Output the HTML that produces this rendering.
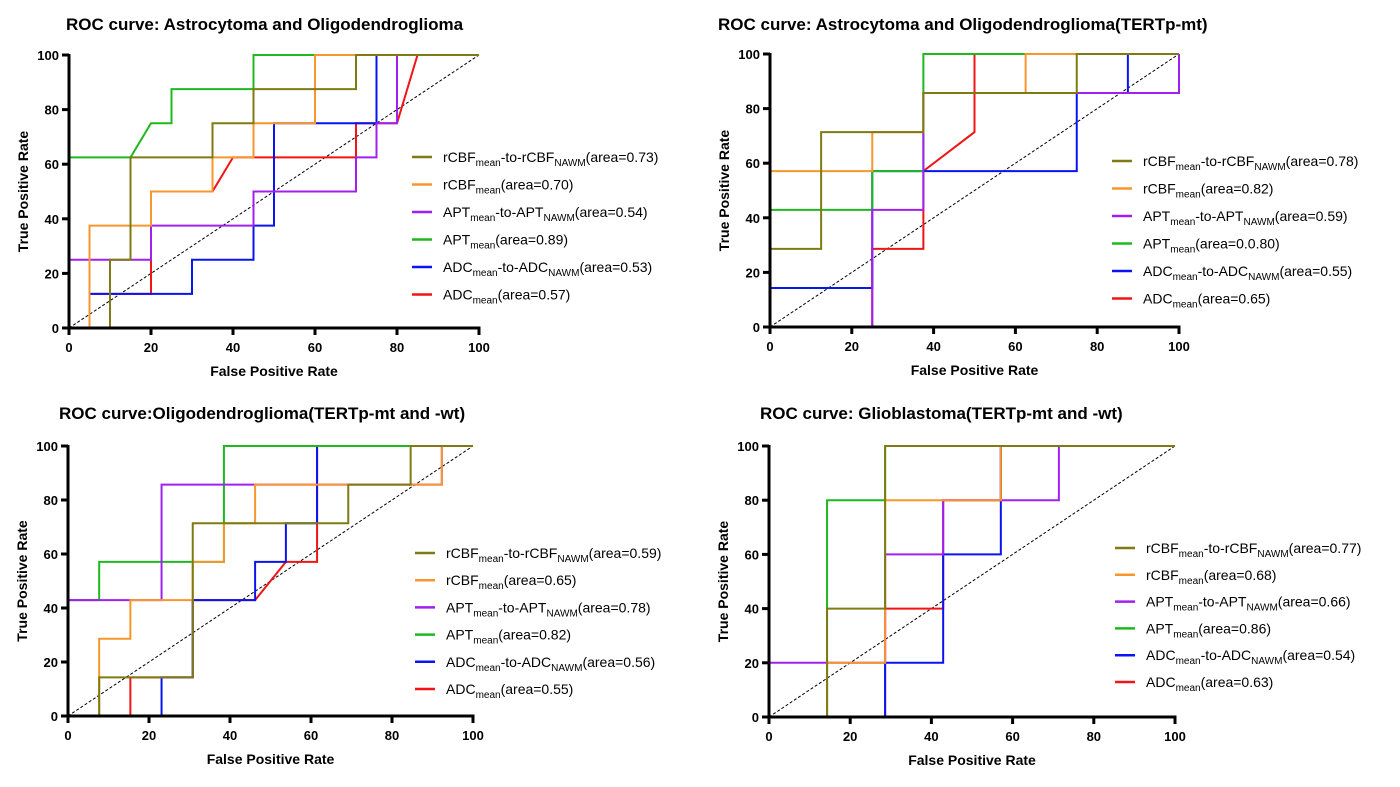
<!DOCTYPE html>
<html><head><meta charset="utf-8"><style>
body{margin:0;background:#fff;}
svg text{font-family:"Liberation Sans",Arial,sans-serif;}
</style></head><body>
<svg id="chart" width="1400" height="782" viewBox="0 0 1400 782"></svg>
<script>
const seriesNames = ["rCBFmean-to-rCBFNAWM","rCBFmean","APTmean-to-APTNAWM","APTmean","ADCmean-to-ADCNAWM","ADCmean"];
const seriesColors = ["#7f7a12","#f7962d","#a020f0","#1fb81f","#0a14f0","#f01414"];
const xTicks = [0,20,40,60,80,100];
const yTicks = [0,20,40,60,80,100];
const titles = ["ROC curve: Astrocytoma and Oligodendroglioma","ROC curve: Astrocytoma and Oligodendroglioma(TERTp-mt)","ROC curve:Oligodendroglioma(TERTp-mt and -wt)","ROC curve: Glioblastoma(TERTp-mt and -wt)"];
const areas1 = ["0.73","0.70","0.54","0.89","0.53","0.57"];
const areas2 = ["0.78","0.82","0.59","0.0.80","0.55","0.65"];
const areas3 = ["0.59","0.65","0.78","0.82","0.56","0.55"];
const areas4 = ["0.77","0.68","0.66","0.86","0.54","0.63"];
// panel 1
const p1fpr = [[0,10,10,15,15,35,35,45,45,70,70,100],[0,5,5,20,20,35,35,45,45,60,60,100],[0,0,20,20,45,45,70,70,75,75,80,80,100],[0,0,15,20,25,25,45,45,100],[0,5,5,30,30,45,45,50,50,75,75,100],[0,5,5,20,20,35,40,70,70,80,85,100]];
const p1tpr = [[0,0,25,25,62.5,62.5,75,75,87.5,87.5,100,100],[0,0,37.5,37.5,50,50,62.5,62.5,75,75,100,100],[0,25,25,37.5,37.5,50,50,62.5,62.5,75,75,100,100],[0,62.5,62.5,75,75,87.5,87.5,100,100],[0,0,12.5,12.5,25,25,37.5,37.5,75,75,100,100],[0,0,12.5,12.5,50,50,62.5,62.5,75,75,100,100]];
// panel 2
const p2fpr = [[0,0,12.5,12.5,37.5,37.5,75,75,100],[0,0,25,25,37.5,37.5,62.5,62.5,100],[0,25,25,37.5,37.5,100,100],[0,0,25,25,37.5,37.5,100],[0,0,25,25,37.5,75,75,87.5,87.5,100],[0,25,25,37.5,37.5,50,50,100]];
const p2tpr = [[0,28.6,28.6,71.4,71.4,85.7,85.7,100,100],[0,57.1,57.1,71.4,71.4,85.7,85.7,100,100],[0,0,42.9,42.9,85.7,85.7,100],[0,42.9,42.9,57.1,57.1,100,100],[0,14.3,14.3,57.1,57.1,57.1,85.7,85.7,100,100],[0,0,28.6,28.6,57.1,71.4,100,100]];
// panel 3
const p3fpr = [[0,7.7,7.7,30.8,30.8,69.2,69.2,84.6,84.6,100],[0,7.7,7.7,15.4,15.4,30.8,30.8,38.5,38.5,46.2,46.2,92.3,92.3,100],[0,0,23.1,23.1,92.3,92.3,100],[0,0,7.7,7.7,38.5,38.5,100],[0,23.1,23.1,30.8,30.8,46.2,46.2,53.8,53.8,61.5,61.5,100],[0,15.4,15.4,30.8,30.8,46.2,53.8,61.5,61.5,61.5,100]];
const p3tpr = [[0,0,14.3,14.3,71.4,71.4,85.7,85.7,100,100],[0,0,28.6,28.6,42.9,42.9,57.1,57.1,71.4,71.4,85.7,85.7,100,100],[0,42.9,42.9,85.7,85.7,100,100],[0,42.9,42.9,57.1,57.1,100,100],[0,0,14.3,14.3,42.9,42.9,57.1,57.1,71.4,71.4,100,100],[0,0,14.3,14.3,42.9,42.9,57.1,57.1,71.4,100,100]];
// panel 4
const p4fpr = [[0,14.3,14.3,28.6,28.6,100],[0,14.3,14.3,28.6,28.6,57.1,57.1,100],[0,0,28.6,28.6,42.9,42.9,71.4,71.4,100],[0,14.3,14.3,28.6,28.6,100],[0,28.6,28.6,42.9,42.9,57.1,57.1,100],[0,28.6,28.6,42.9,42.9,57.1,57.1,100]];
const p4tpr = [[0,0,40,40,100,100],[0,0,20,20,80,80,100,100],[0,20,20,60,60,80,80,100,100],[0,0,80,80,100,100],[0,0,20,20,60,60,100,100],[0,0,40,40,80,80,100,100]];

const NS="http://www.w3.org/2000/svg";
const svg=document.getElementById('chart');
function mk(tag,attrs,parent){const e=document.createElementNS(NS,tag);for(const k in attrs)e.setAttribute(k,attrs[k]);(parent||svg).appendChild(e);return e;}
const panels=[
 {x0:69,x1:479,y0:328,y1:55,tx:66,ty:30,lx:412,ly:157,ld:27.5,fpr:p1fpr,tpr:p1tpr,areas:areas1},
 {x0:770,x1:1179,y0:327,y1:54,tx:718,ty:30,lx:1112,ly:161,ld:27.5,fpr:p2fpr,tpr:p2tpr,areas:areas2},
 {x0:68,x1:473,y0:716,y1:446,tx:59,ty:419,lx:415,ly:553,ld:27.2,fpr:p3fpr,tpr:p3tpr,areas:areas3},
 {x0:769,x1:1175,y0:717,y1:446,tx:760,ty:419,lx:1115,ly:548,ld:26.8,fpr:p4fpr,tpr:p4tpr,areas:areas4}
];
const subs=[["rCBF","mean","-to-rCBF","NAWM"],["rCBF","mean"],["APT","mean","-to-APT","NAWM"],["APT","mean"],["ADC","mean","-to-ADC","NAWM"],["ADC","mean"]];
panels.forEach((p,pi)=>{
 const g=mk('g',{});
 
 
 const sx=v=>p.x0+(p.x1-p.x0)*v/100, sy=v=>p.y0+(p.y1-p.y0)*v/100;
 const t=mk('text',{x:p.tx,y:p.ty,'font-size':17,'font-weight':'bold'},g);t.textContent=titles[pi];
 
 
 const d=mk('line',{x1:sx(0),y1:sy(0),x2:sx(100),y2:sy(100),stroke:'#000','stroke-width':1,'stroke-dasharray':'3,2'},g);
 
 
 for(let i=5;i>=0;i--){
  const pts=p.fpr[i].map((f,j)=>sx(f)+','+sy(p.tpr[i][j])).join(' ');
  const l=mk('polyline',{points:pts,fill:'none',stroke:seriesColors[i],'stroke-width':2},g);
  
  
 }
 mk('line',{x1:p.x0,y1:p.y0+1.5,x2:p.x0,y2:p.y1-1,stroke:'#000','stroke-width':3},g);
 mk('line',{x1:p.x0-1.5,y1:p.y0,x2:p.x1+1.5,y2:p.y0,stroke:'#000','stroke-width':3},g);
 xTicks.forEach(v=>{
  mk('line',{x1:sx(v),y1:p.y0,x2:sx(v),y2:p.y0+7,stroke:'#000','stroke-width':3},g);
  const tt=mk('text',{x:sx(v),y:p.y0+24,'font-size':13,'font-weight':'bold','text-anchor':'middle'},g);tt.textContent=v;
  
  
 });
 yTicks.forEach(v=>{
  mk('line',{x1:p.x0-7,y1:sy(v),x2:p.x0,y2:sy(v),stroke:'#000','stroke-width':3},g);
  const tt=mk('text',{x:p.x0-10,y:sy(v)+5,'font-size':13,'font-weight':'bold','text-anchor':'end'},g);tt.textContent=v;
  
  
 });
 const xt=mk('text',{x:(p.x0+p.x1)/2,y:p.y0+48,'font-size':14,'font-weight':'bold','text-anchor':'middle'},g);xt.textContent='False Positive Rate';
 
 
 const yc=(p.y0+p.y1)/2, yx=p.x0-41;
 const yt=mk('text',{x:yx,y:yc,'font-size':14,'font-weight':'bold','text-anchor':'middle',transform:`rotate(-90 ${yx} ${yc})`},g);yt.textContent='True Positive Rate';
 
 
 for(let i=0;i<6;i++){
  const y=p.ly+i*p.ld;
  const le=mk('g',{},g);
  
  
  mk('line',{x1:p.lx,y1:y,x2:p.lx+20,y2:y,stroke:seriesColors[i],'stroke-width':2.5},le);
  const tx=mk('text',{x:p.lx+31,y:y+5,'font-size':14},le);
  const s=subs[i];
  let h='<tspan>'+s[0]+'</tspan><tspan font-size="10" dy="4">'+s[1]+'</tspan>';
  if(s.length>2){h+='<tspan dy="-4">'+s[2]+'</tspan><tspan font-size="10" dy="4">'+s[3]+'</tspan>';}
  h+='<tspan dy="-4">(area='+p.areas[i]+')</tspan>';
  tx.innerHTML=h;
 }
});
</script>
</body></html>
